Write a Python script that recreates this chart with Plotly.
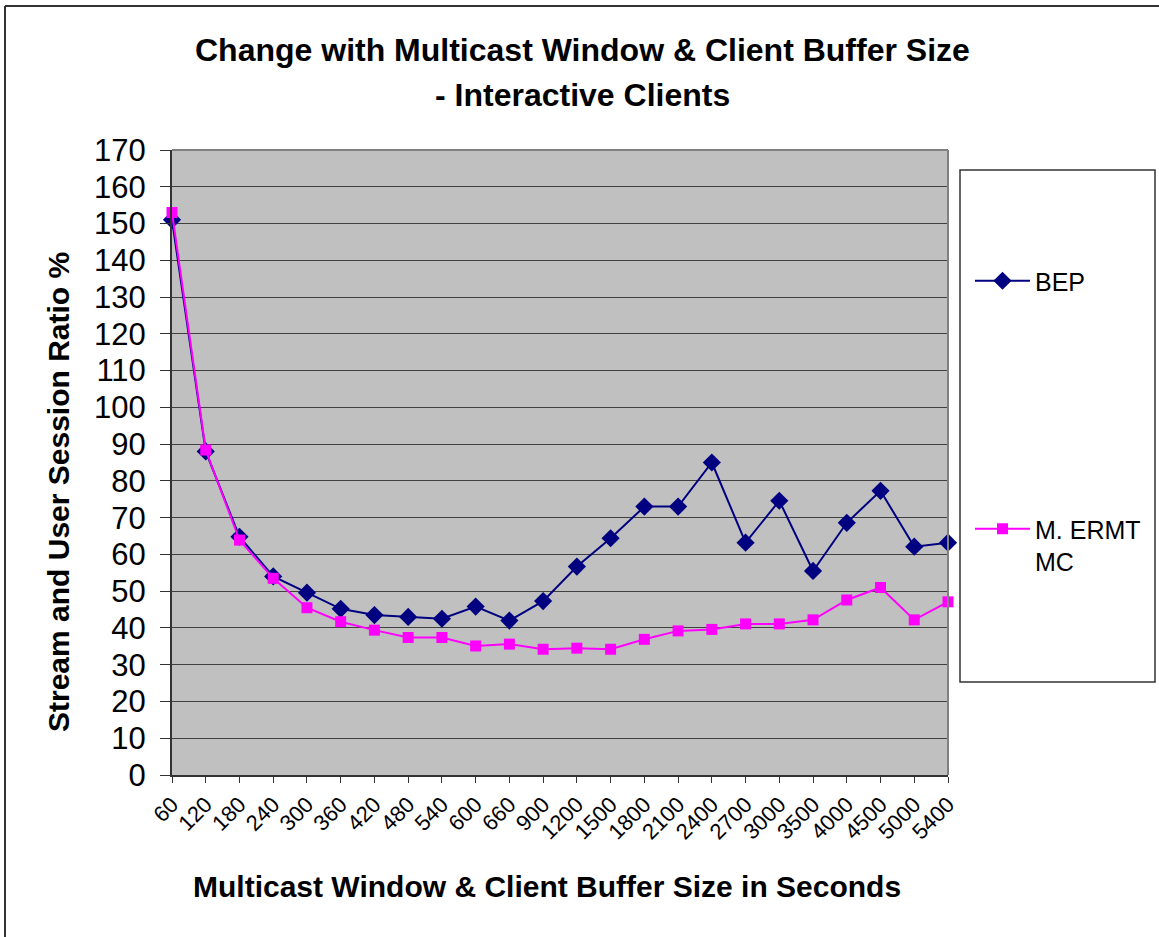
import plotly.graph_objects as go

categories = ["60", "120", "180", "240", "300", "360", "420", "480", "540", "600", "660",
              "900", "1200", "1500", "1800", "2100", "2400", "2700", "3000", "3500",
              "4000", "4500", "5000", "5400"]
bep = [151, 88, 64.8, 54, 49.6, 45.2, 43.5, 43, 42.5, 45.8, 42,
       47.3, 56.7, 64.4, 73, 73, 85, 63.2, 74.6, 55.5, 68.6, 77.3, 62.1, 63.2]
ermt = [153, 88.4, 63.9, 53.5, 45.5, 41.7, 39.4, 37.4, 37.4, 35.1, 35.6,
        34.2, 34.5, 34.2, 36.9, 39.2, 39.6, 41.1, 41.1, 42.2, 47.6, 51, 42.2, 47.1]
y_ticks = list(range(0, 171, 10))

W, H = 1159, 937
L, R, T, B = 172, 948, 150, 775
pw, ph = R - L, B - T


def px(x):
    return (x - L) / pw


def py(y):
    return (B - y) / ph


FONT = "Liberation Sans, Arial, sans-serif"

fig = go.Figure()
fig.add_trace(go.Scatter(
    x=categories, y=bep, name="BEP", mode="lines+markers",
    line=dict(color="#000080", width=2),
    marker=dict(symbol="diamond", size=14, color="#000080"),
    cliponaxis=False, legend="legend"))
fig.add_trace(go.Scatter(
    x=categories, y=ermt, name="M. ERMT<br>MC", mode="lines+markers",
    line=dict(color="#FF00FF", width=2),
    marker=dict(symbol="square", size=11, color="#FF00FF"),
    cliponaxis=False, legend="legend2"))

fig.update_layout(
    width=W, height=H,
    margin=dict(l=L, r=W - R, t=T, b=H - B, pad=0),
    paper_bgcolor="white", plot_bgcolor="#C0C0C0",
    font=dict(family=FONT, color="black"),
    showlegend=True,
    legend=dict(x=px(970), y=py(281), xanchor="left", yanchor="middle",
                bgcolor="rgba(0,0,0,0)", font=dict(size=25, family=FONT),
                itemwidth=55, valign="top"),
    legend2=dict(x=px(970), y=py(506), xanchor="left", yanchor="top",
                 bgcolor="rgba(0,0,0,0)", font=dict(size=25, family=FONT),
                 itemwidth=55, valign="top"),
)

fig.update_xaxes(
    type="category", categoryorder="array", categoryarray=categories,
    range=[0, len(categories) - 1],
    tickmode="array", tickvals=categories, ticktext=categories,
    tickangle=-45, tickfont=dict(size=22, family=FONT),
    ticks="outside", ticklen=6, tickcolor="#333333",
    showline=True, linecolor="#333333", linewidth=2,
    showgrid=False, zeroline=False,
)
fig.update_yaxes(
    range=[0, 170], tickmode="array", tickvals=y_ticks,
    tickfont=dict(size=31, family=FONT),
    ticks="outside", ticklen=10, tickcolor="#333333",
    ticklabelstandoff=8,
    showline=True, linecolor="#333333", linewidth=2,
    showgrid=True, gridcolor="#404040", gridwidth=1,
    zeroline=False,
)

shapes = [
    # outer chart border: top and left edges only are visible
    dict(type="line", xref="paper", yref="paper",
         x0=px(5), x1=px(1159), y0=py(6), y1=py(6),
         line=dict(color="#333333", width=2)),
    dict(type="line", xref="paper", yref="paper",
         x0=px(5), x1=px(5), y0=py(6), y1=py(937),
         line=dict(color="#333333", width=2)),
    # plot area top and right borders
    dict(type="line", xref="paper", yref="paper", x0=0, x1=1, y0=1, y1=1,
         line=dict(color="#808080", width=2)),
    dict(type="line", xref="paper", yref="paper", x0=1, x1=1, y0=0, y1=1,
         line=dict(color="#808080", width=2)),
    # legend box
    dict(type="rect", xref="paper", yref="paper",
         x0=px(960), x1=px(1155), y0=py(682), y1=py(170),
         line=dict(color="#333333", width=1.5)),
]
fig.update_layout(shapes=shapes)

annotations = [
    dict(text="<b>Change with Multicast Window & Client Buffer Size</b>",
         x=px(582), y=py(50), xref="paper", yref="paper", showarrow=False,
         xanchor="center", yanchor="middle", font=dict(size=32, family=FONT)),
    dict(text="<b>- Interactive Clients</b>",
         x=px(582), y=py(95), xref="paper", yref="paper", showarrow=False,
         xanchor="center", yanchor="middle", font=dict(size=32, family=FONT)),
    dict(text="<b>Multicast Window & Client Buffer Size in Seconds</b>",
         x=px(547), y=py(886), xref="paper", yref="paper", showarrow=False,
         xanchor="center", yanchor="middle", font=dict(size=30, family=FONT)),
    dict(text="<b>Stream and User Session Ratio %</b>",
         x=px(58), y=py(492), xref="paper", yref="paper", showarrow=False,
         xanchor="center", yanchor="middle", textangle=-90,
         font=dict(size=30, family=FONT)),
]
fig.update_layout(annotations=annotations)

fig.write_html("out.html",
               config={"displayModeBar": False},
               post_script="document.body.style.margin='0';document.body.style.overflow='hidden';")
